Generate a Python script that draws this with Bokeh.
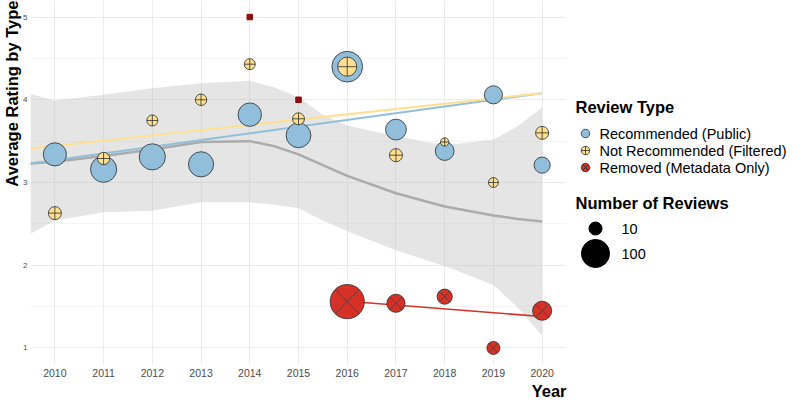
import math
from bokeh.plotting import figure
from bokeh.models import Range1d, FixedTicker, Title
from bokeh.layouts import row
from bokeh.embed import file_html
from bokeh.resources import INLINE
from bokeh.core.properties import value

# ---------------- data ----------------
years = [2010, 2011, 2012, 2013, 2014, 2015, 2016, 2017, 2018, 2019, 2020]

rec_rating = [3.34, 3.16, 3.31, 3.22, 3.82, 3.57, 4.40, 3.64, 3.38, 4.06, 3.21]
rec_count = [60, 83, 83, 75, 62, 72, 125, 45, 33, 30, 21]

filt_rating = [2.63, 3.29, 3.75, 4.00, 4.43, 3.77, 4.40, 3.33, 3.49, 3.00, 3.60]
filt_count = [10, 8, 5, 6, 5, 7, 35, 10, 1, 3, 10]

rem_years = [2014, 2015, 2016, 2017, 2018, 2019, 2020]
rem_rating = [5.00, 4.00, 1.56, 1.54, 1.62, 1.00, 1.45]
rem_count = [1, 1, 163, 30, 17, 10, 35]

# linear trends
rec_trend_x = [2009.5, 2020]
rec_trend_y = [3.23, 4.08]
filt_trend_x = [2009.5, 2020]
filt_trend_y = [3.41, 4.08]
rem_trend_x = [2016, 2020]
rem_trend_y = [1.565, 1.38]

# overall loess smooth with confidence band
smooth_x = [2009.5, 2010, 2011, 2012, 2013, 2014, 2014.5, 2015, 2015.5, 2016, 2017, 2018, 2019, 2019.5, 2020]
smooth_y = [3.23, 3.25, 3.32, 3.40, 3.49, 3.50, 3.44, 3.34, 3.21, 3.08, 2.87, 2.71, 2.60, 2.56, 2.53]
smooth_hi = [4.07, 3.99, 4.06, 4.14, 4.20, 4.23, 4.15, 4.03, 3.82, 3.69, 3.56, 3.45, 3.52, 3.68, 3.91]
smooth_lo = [2.38, 2.54, 2.64, 2.66, 2.76, 2.76, 2.73, 2.69, 2.54, 2.41, 2.18, 1.99, 1.76, 1.49, 1.15]

y_ticks = [1, 2, 3, 4, 5]
y_minor = [1.5, 2.5, 3.5, 4.5]
size_legend_counts = [10, 100]
size_legend_labels = ["10", "100"]
type_labels = ["Recommended (Public)", "Not Recommended (Filtered)", "Removed (Metadata Only)"]

# ---------------- styles ----------------
FONT = "Liberation Sans"
BLUE = "#91BFDB"
YELLOW = "#FEE090"
RED = "#D73027"
DARKRED = "#8B1010"
EDGE = "#2B2B2B"
FRAME_H = 364


def dia(n):
    return 6.1 + 2.2 * math.sqrt(n)


p = figure(frame_width=536, frame_height=FRAME_H,
           x_range=Range1d(2009.5, 2020.5), y_range=Range1d(0.8, 5.2),
           output_backend="svg", toolbar_location=None,
           min_border_left=0, min_border_right=2, min_border_top=0, min_border_bottom=0)
p.outline_line_color = None
p.background_fill_color = "white"

p.xaxis.ticker = FixedTicker(ticks=years)
p.yaxis.ticker = FixedTicker(ticks=y_ticks, minor_ticks=y_minor)
for ax in (p.xaxis, p.yaxis):
    ax.axis_line_color = None
    ax.major_tick_line_color = None
    ax.minor_tick_line_color = None
    ax.major_tick_out = 0
    ax.minor_tick_out = 0
    ax.major_label_text_font = FONT
    ax.major_label_text_color = "#4D4D4D"
p.xaxis.major_label_text_font_size = "10.5px"
p.xaxis.major_label_standoff = 4
p.yaxis.major_label_text_font_size = "8px"
p.yaxis.major_label_standoff = 3

p.xgrid.grid_line_color = "#EBEBEB"
p.ygrid.grid_line_color = "#EBEBEB"
p.ygrid.minor_grid_line_color = "#F4F4F4"

p.add_layout(Title(text="Average Rating by Type", align="right", text_font=FONT,
                   text_font_size="16.5px", text_font_style="bold", text_color="black",
                   standoff=0, offset=0), "left")
p.add_layout(Title(text="Year", align="right", text_font=FONT,
                   text_font_size="16.5px", text_font_style="bold", text_color="black",
                   standoff=0, offset=0), "below")

# confidence band + loess line
p.varea(x=smooth_x, y1=smooth_lo, y2=smooth_hi, fill_color="#BEBEBE", fill_alpha=0.4)
p.line(smooth_x, smooth_y, line_color="#ABABAB", line_width=2.5)

# linear trends
p.line(rec_trend_x, rec_trend_y, line_color=BLUE, line_width=2)
p.line(filt_trend_x, filt_trend_y, line_color=YELLOW, line_width=2)
p.line(rem_trend_x, rem_trend_y, line_color=RED, line_width=1.6)

# points
p.scatter(x=years, y=rec_rating, size=[dia(n) for n in rec_count], marker="circle",
          fill_color=BLUE, line_color=EDGE, line_width=0.8)
p.scatter(x=years, y=filt_rating, size=[dia(n) for n in filt_count], marker="circle_cross",
          fill_color=YELLOW, line_color=EDGE, line_width=0.8)

big_x = [x for x, n in zip(rem_years, rem_count) if n > 1]
big_y = [y for y, n in zip(rem_rating, rem_count) if n > 1]
big_s = [dia(n) for n in rem_count if n > 1]
one_x = [x for x, n in zip(rem_years, rem_count) if n <= 1]
one_y = [y for y, n in zip(rem_rating, rem_count) if n <= 1]

p.scatter(x=big_x, y=big_y, size=big_s, marker="circle",
          fill_color=RED, line_color=EDGE, line_width=0.8)
p.scatter(x=big_x, y=big_y, size=big_s, marker="x",
          line_color="#3A3A3A", line_width=0.9, line_alpha=0.75)
p.scatter(x=one_x, y=one_y, size=5.5, marker="square",
          fill_color=DARKRED, line_color=DARKRED)

# ---------------- legend panel (pixel coordinates, y downward) ----------------
lg = figure(frame_width=222, frame_height=FRAME_H,
            x_range=Range1d(0, 222), y_range=Range1d(FRAME_H, 0),
            output_backend="svg", toolbar_location=None,
            x_axis_type=None, y_axis_type=None,
            min_border_left=0, min_border_right=0, min_border_top=0, min_border_bottom=0)
lg.outline_line_color = None
lg.grid.visible = False

TITLE_X, GLYPH_X, TEXT_X = 7, 17, 31
type_y = [133, 150, 167]

lg.text(x=[TITLE_X], y=[106], text=["Review Type"], text_font=value(FONT),
        text_font_size="16.5px", text_font_style="bold", text_baseline="middle",
        text_color="black")
type_markers = ["circle", "circle_cross", "circle_x"]
type_fills = [BLUE, YELLOW, RED]
for yy, mk, fc in zip(type_y, type_markers, type_fills):
    lg.scatter(x=[GLYPH_X], y=[yy], size=8.5, marker=mk, fill_color=fc,
               line_color=EDGE, line_width=0.8)
lg.text(x=[TEXT_X] * 3, y=type_y, text=type_labels, text_font=value(FONT),
        text_font_size="14.5px", text_baseline="middle", text_color="black")

lg.text(x=[TITLE_X], y=[202], text=["Number of Reviews"], text_font=value(FONT),
        text_font_size="16.5px", text_font_style="bold", text_baseline="middle",
        text_color="black")
lg.scatter(x=[27, 27], y=[228, 253], size=[dia(n) for n in size_legend_counts],
           marker="circle", fill_color="black", line_color="black")
lg.text(x=[53, 53], y=[228, 253], text=size_legend_labels, text_font=value(FONT),
        text_font_size="14.5px", text_baseline="middle", text_color="black")

layout = row(p, lg)
open("out.html", "w").write(file_html(layout, INLINE))
